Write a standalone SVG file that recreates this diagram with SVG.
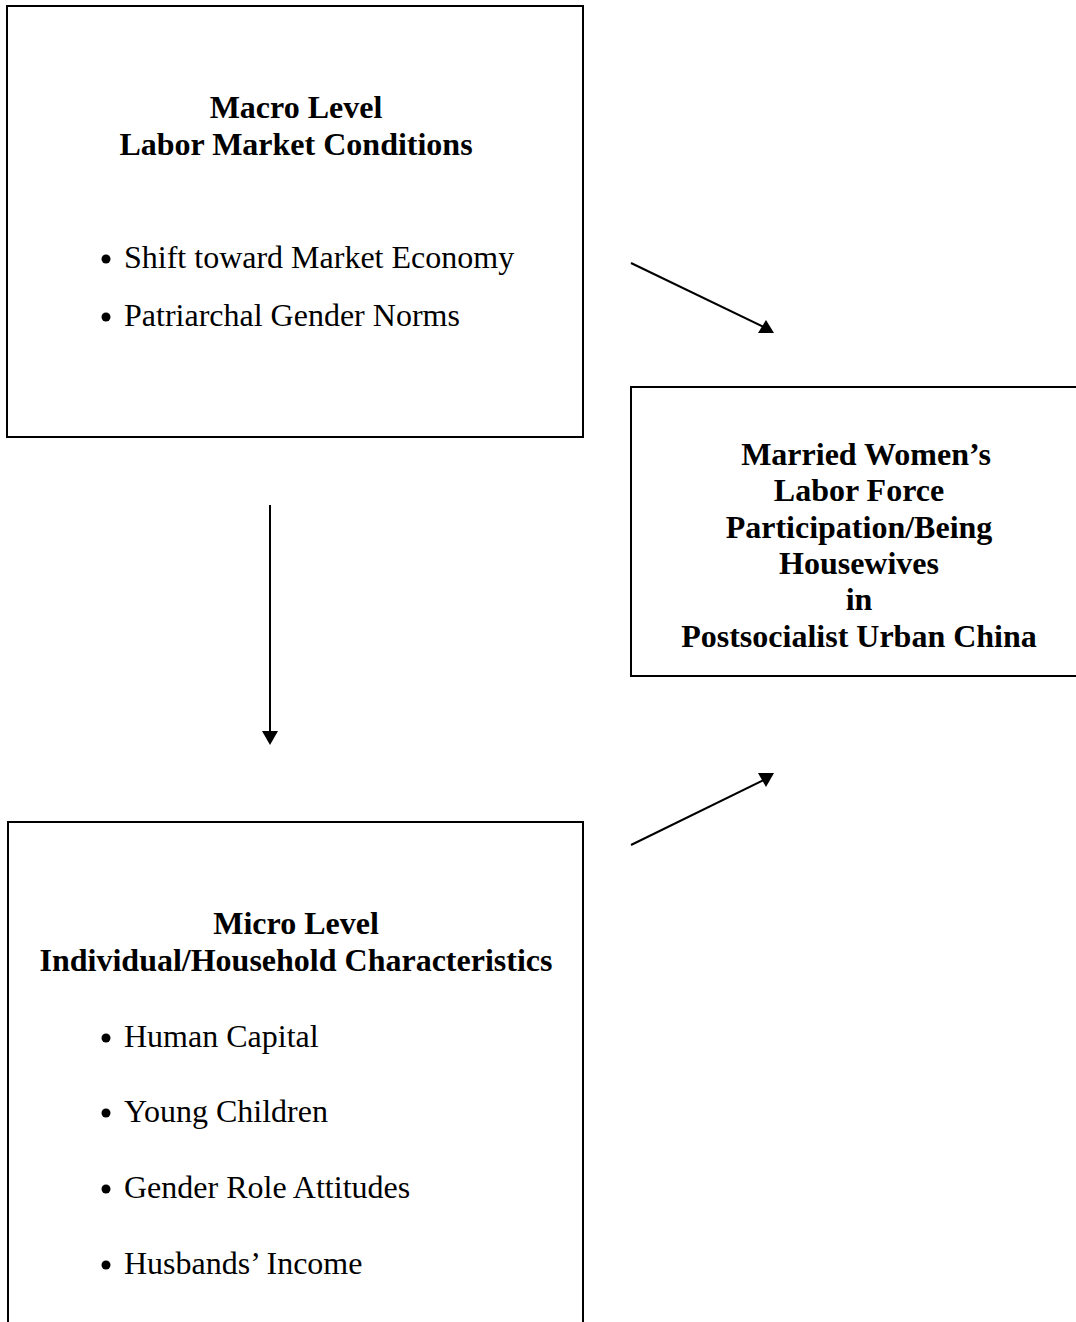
<svg xmlns="http://www.w3.org/2000/svg" width="1076" height="1322" viewBox="0 0 1076 1322">
<style>
.box{fill:#fff;stroke:#000;stroke-width:2}
.t{font-family:"Liberation Serif","Times New Roman",serif;font-size:32px;fill:#000}
.b{font-weight:bold;text-anchor:middle}
.c{stroke:#000;stroke-width:2;fill:none}
</style>
<defs>
<marker id="up" markerWidth="16" markerHeight="14" refX="8" refY="8" orient="0" markerUnits="userSpaceOnUse" viewBox="0 0 16 14" overflow="visible">
<path d="M8,0 L16,13 L0,13 z" fill="#000"/>
</marker>
<marker id="down" markerWidth="16" markerHeight="14" refX="8" refY="6" orient="0" markerUnits="userSpaceOnUse" viewBox="0 0 16 14" overflow="visible">
<path d="M0,0 L16,0 L8,14 z" fill="#000"/>
</marker>
</defs>
<rect width="1076" height="1322" fill="#fff"/>
<g id="macro">
<rect class="box" x="7" y="6" width="576" height="431"/>
<text class="t b" x="296" y="118">Macro Level</text>
<text class="t b" x="296" y="155">Labor Market Conditions</text>
<circle cx="106" cy="259" r="4.5"/>
<text class="t" x="124" y="268">Shift toward Market Economy</text>
<circle cx="106" cy="317" r="4.5"/>
<text class="t" x="124" y="326">Patriarchal Gender Norms</text>
</g>
<g id="outcome">
<rect class="box" x="631" y="387" width="450" height="289"/>
<text class="t b" x="866" y="465">Married Women’s</text>
<text class="t b" x="859" y="501">Labor Force</text>
<text class="t b" x="859" y="538">Participation/Being</text>
<text class="t b" x="859" y="574">Housewives</text>
<text class="t b" x="859" y="610">in</text>
<text class="t b" x="859" y="647">Postsocialist Urban China</text>
</g>
<g id="micro">
<rect class="box" x="8" y="822" width="575" height="510"/>
<text class="t b" x="296" y="934">Micro Level</text>
<text class="t b" x="296" y="971">Individual/Household Characteristics</text>
<circle cx="106" cy="1038" r="4.5"/>
<text class="t" x="124" y="1047">Human Capital</text>
<circle cx="106" cy="1113" r="4.5"/>
<text class="t" x="124" y="1122">Young Children</text>
<circle cx="106" cy="1189" r="4.5"/>
<text class="t" x="124" y="1198">Gender Role Attitudes</text>
<circle cx="106" cy="1265" r="4.5"/>
<text class="t" x="124" y="1274">Husbands’ Income</text>
</g>
<g id="connectors">
<line class="c" x1="631" y1="263" x2="766" y2="328" marker-end="url(#up)"/>
<line class="c" x1="631" y1="845" x2="766" y2="779" marker-end="url(#down)"/>
<line class="c" x1="270" y1="505" x2="270" y2="737" marker-end="url(#down)"/>
</g>
</svg>
